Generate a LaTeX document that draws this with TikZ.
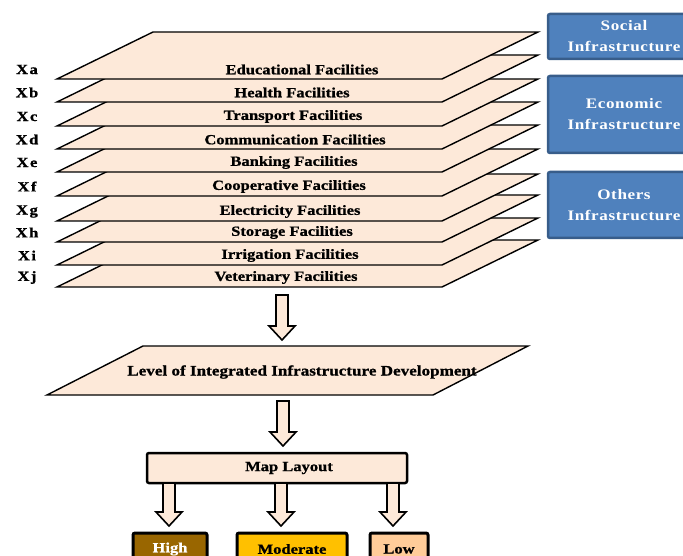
\documentclass[tikz,border=0pt]{standalone}
\usepackage{fontspec}
\setmainfont{Liberation Serif}
\newfontfamily\wfont{Liberation Serif}[FakeStretch=1.18,FakeBold=1]
\newfontfamily\bfont{Liberation Serif}[FakeStretch=1.18]
\usetikzlibrary{calc,positioning}
\definecolor{peach}{HTML}{FDE9D9}
\definecolor{ofblue}{HTML}{4F81BD}
\definecolor{ofblueline}{HTML}{385D8A}
\definecolor{highcol}{HTML}{996600}
\definecolor{modcol}{HTML}{FFC000}
\definecolor{lowcol}{HTML}{FFCC99}

% hollow block arrow from #1 down to #2
\newcommand{\blockarrow}[2]{%
  \path[barrow] let \p1=(#1), \p2=(#2) in
    ({\x1-6pt},\y1) -- ({\x1+6pt},\y1) -- ({\x1+6pt},{\y2+14pt}) -- ({\x1+13pt},{\y2+14pt})
    -- (\x1,\y2) -- ({\x1-13pt},{\y2+14pt}) -- ({\x1-6pt},{\y2+14pt}) -- cycle;}

\begin{document}
\begin{tikzpicture}[x=1pt,y=-1pt]
\tikzset{
  layer/.style={draw=black,fill=peach,line width=1.4pt,line join=miter},
  facil/.style={font=\wfont\bfseries\fontsize{14}{17}\selectfont,inner sep=0pt},
  xlbl/.style={font=\wfont\bfseries\fontsize{14}{17}\selectfont,inner sep=0pt},
  barrow/.style={draw=black,fill=peach,line width=1.6pt,line join=miter},
  infra/.style={draw=ofblueline,fill=ofblue,line width=2.5pt,rounded corners=2pt,
    text=white,align=center,minimum width=152,
    font=\bfont\bfseries\fontsize{14.5}{21}\selectfont\addfontfeature{LetterSpace=4}},
  mapbox/.style={draw=black,fill=peach,line width=2.5pt,rounded corners=2pt,
    minimum width=260,minimum height=30,font=\wfont\bfseries\fontsize{14}{17}\selectfont},
  classbox/.style={draw=black,line width=3pt,rounded corners=2pt,minimum height=32,
    font=\wfont\bfseries\fontsize{14}{17}\selectfont}
}
\useasboundingbox (0,0) rectangle (683,556);
\clip (0,0) rectangle (683,556);

% stacked facility layers, lowest first
\foreach \b/\tx/\txt/\id in {287/286/Veterinary Facilities/j,
    265/290/Irrigation Facilities/i,
    242/292/Storage Facilities/h,
    221/290/Electricity Facilities/g,
    196/289/Cooperative Facilities/f,
    172/294/Banking Facilities/e,
    149/295/Communication Facilities/d,
    126/293/Transport Facilities/c,
    102/292/Health Facilities/b,
    79/302/Educational Facilities/a}{
  \draw[layer] (57,\b) -- (442,\b) -- (538,\b-47) -- (153,\b-47) -- cycle;
  \node[facil] (f\id) at (\tx,\b-9.5) {\txt};
  \node[xlbl] (x\id) at (27,\b-9.5) {X\kern1.5pt\id};
}

% groups
\node[infra,minimum height=45] (social) at (624,36.5) {Social\\Infrastructure};
\node[infra,minimum height=77] (economic) at (624,114.5) {Economic\\Infrastructure};
\node[infra,minimum height=66] (others) at (624,205) {Others\\Infrastructure};

% integrated level
\draw[layer] (47,395) -- (433,395) -- (528,346) -- (143,346) -- cycle;
\node[facil,font=\wfont\bfseries\fontsize{14.5}{17}\selectfont] (level) at (302,372)
  {Level of Integrated Infrastructure Development};

\coordinate (a1s) at (282,295);
\coordinate (a1e) at (282,340);
\blockarrow{a1s}{a1e}
\coordinate (a2s) at (283,401);
\coordinate (a2e) at (283,446);
\blockarrow{a2s}{a2e}

\node[mapbox] (map) at (277,468) {\hspace*{24pt}Map Layout};

\node[classbox,fill=highcol,text=white,minimum width=74] (high) at (170,549) {High};
\node[classbox,fill=modcol,minimum width=110] (moderate) at (292,549) {Moderate};
\node[classbox,fill=lowcol,minimum width=58] (low) at (399,549) {Low};

\coordinate (h1) at (169,483);
\coordinate (h2) at (169,526);
\blockarrow{h1}{h2}
\coordinate (m1) at (281,483);
\coordinate (m2) at (281,526);
\blockarrow{m1}{m2}
\coordinate (l1) at (393,483);
\coordinate (l2) at (393,526);
\blockarrow{l1}{l2}
\end{tikzpicture}
\end{document}
